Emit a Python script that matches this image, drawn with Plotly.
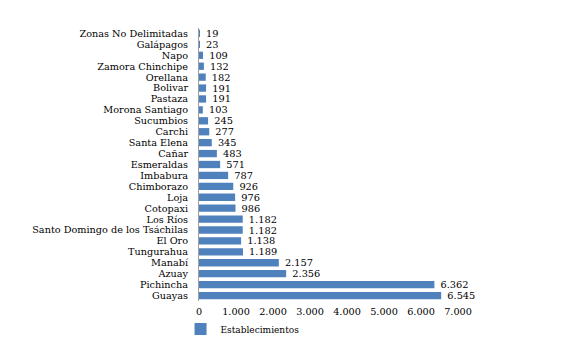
import plotly.graph_objects as go

provincias = ["Zonas No Delimitadas", "Galápagos", "Napo", "Zamora Chinchipe", "Orellana",
              "Bolivar", "Pastaza", "Morona Santiago", "Sucumbios", "Carchi", "Santa Elena",
              "Cañar", "Esmeraldas", "Imbabura", "Chimborazo", "Loja", "Cotopaxi", "Los Ríos",
              "Santo Domingo de los Tsáchilas", "El Oro", "Tungurahua", "Manabí", "Azuay",
              "Pichincha", "Guayas"]
establecimientos = [19, 23, 109, 132, 182, 191, 191, 103, 245, 277, 345, 483, 571, 787, 926,
                    976, 986, 1182, 1182, 1138, 1189, 2157, 2356, 6362, 6545]
x_ticks = [0, 1000, 2000, 3000, 4000, 5000, 6000, 7000]

font_family = "DejaVu Serif"

fig = go.Figure(go.Bar(
    x=establecimientos,
    y=provincias,
    orientation="h",
    name="Establecimientos",
    marker=dict(color="#4F81BD", line=dict(width=0)),
    texttemplate=" %{x:,.0f}",
    textposition="outside",
    constraintext="none",
    textfont=dict(family=font_family, size=9.8, color="black"),
    cliponaxis=False,
))

fig.update_layout(
    width=579, height=338,
    margin=dict(l=191, r=129, t=20, b=45, autoexpand=False),
    paper_bgcolor="white", plot_bgcolor="white",
    separators=",.",
    bargap=0.33,
    font=dict(family=font_family, size=9.7, color="black"),
    showlegend=True,
    legend=dict(orientation="h", xref="container", yref="container",
                x=0.298, xanchor="left", y=0.05, yanchor="middle",
                font=dict(family=font_family, size=9, color="black"),
                itemwidth=30, bgcolor="rgba(0,0,0,0)"),
    xaxis=dict(range=[0, 7000], tickvals=x_ticks, tickformat=",.0f",
               showgrid=False, zeroline=False, showline=False, automargin=False,
               ticklabelstandoff=3,
               tickfont=dict(family=font_family, size=9.7, color="black")),
    yaxis=dict(autorange="reversed", showline=True, linecolor="#A0A0A0", linewidth=1,
               tickmode="array", tickvals=provincias, automargin=False,
               showgrid=False, ticks="", ticklabelstandoff=8,
               tickfont=dict(family=font_family, size=9.7, color="black")),
)

fig.write_html("out.html")
